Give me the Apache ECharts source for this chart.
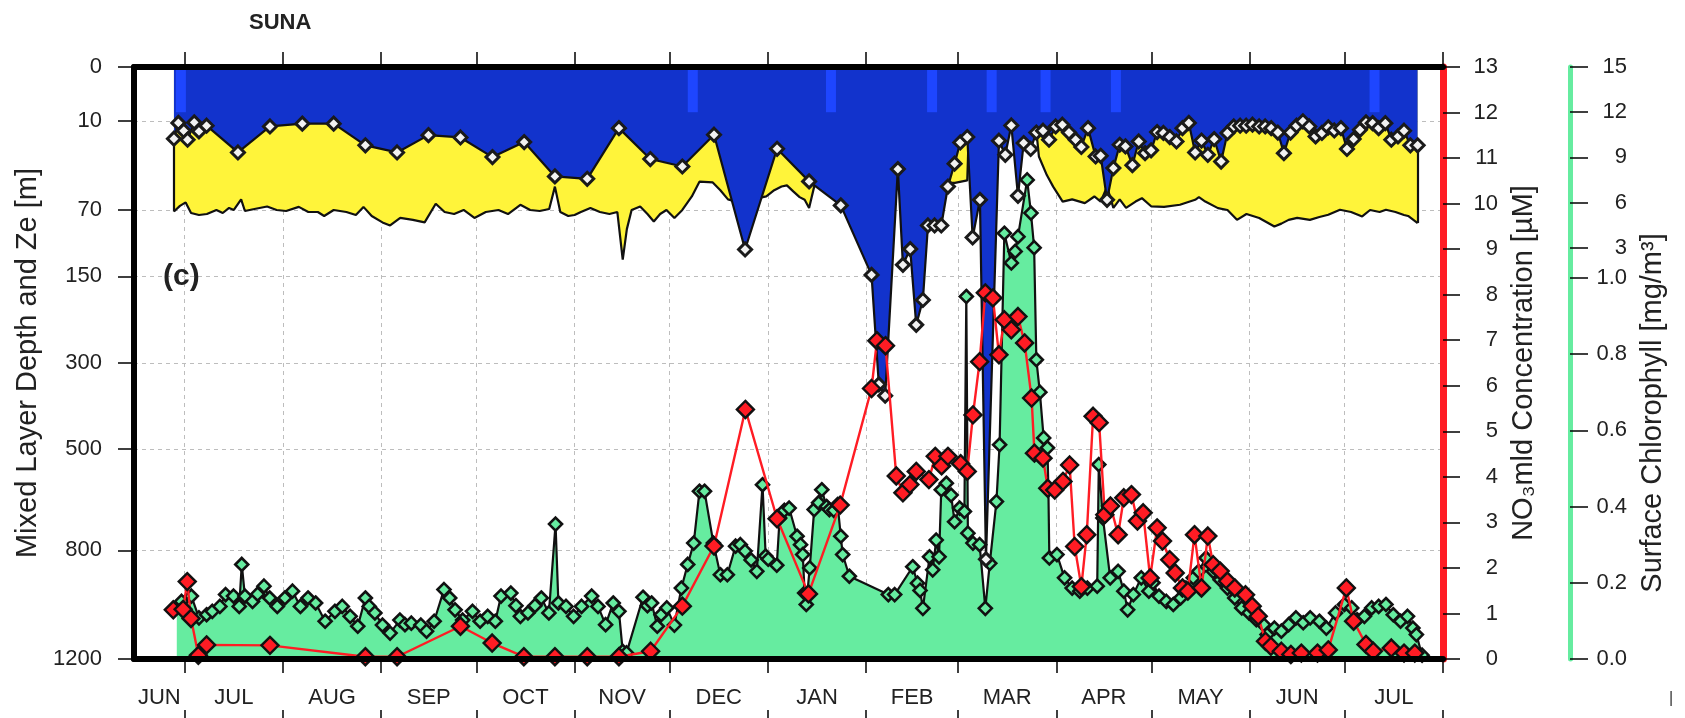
<!DOCTYPE html>
<html>
<head>
<meta charset="utf-8">
<title>SUNA</title>
<script src="https://cdn.jsdelivr.net/npm/echarts@6/dist/echarts.min.js"></script>
<style>
  html, body { margin: 0; padding: 0; background: #fff; }
  #chart { width: 1685px; height: 718px; }
</style>
</head>
<body>
<div id="chart"></div>
<script>
// x values are days counted from 2015-06-15 (left edge of the plot)
var START = Date.UTC(2015, 5, 15);
var END = Date.UTC(2016, 7, 1);
var DAY = 86400000;

var monthStarts = ['2015-07-01', '2015-08-01', '2015-09-01', '2015-10-01', '2015-11-01', '2015-12-01',
  '2016-01-01', '2016-02-01', '2016-03-01', '2016-04-01', '2016-05-01', '2016-06-01', '2016-07-01', '2016-08-01'];
var monthNames = ['JUN', 'JUL', 'AUG', 'SEP', 'OCT', 'NOV', 'DEC', 'JAN', 'FEB', 'MAR', 'APR', 'MAY', 'JUN', 'JUL'];

var depthTicks = [0, 10, 70, 150, 300, 500, 800, 1200];
var chlTicks = [0, 0.2, 0.4, 0.6, 0.8, 1.0, 3, 6, 9, 12, 15];
var chlTickLabels = ['0.0', '0.2', '0.4', '0.6', '0.8', '1.0', '3', '6', '9', '12', '15'];

// mixed layer depth [m]
var mldDay = [12.6, 14.0, 15.7, 16.9, 19.0, 20.5, 22.9, 32.8, 42.9, 53.1,
  63.0, 73.0, 83.0, 92.9, 103.0, 113.1, 123.1, 132.8, 143.0, 153.0,
  162.9, 173.0, 183.0, 192.8, 202.9, 213.0, 223.0, 232.7, 235.0, 237.0,
  241.0, 242.6, 244.9, 246.8, 248.9, 250.5, 252.6, 254.7, 256.8, 258.9,
  260.7, 262.9, 264.6, 266.9, 268.8, 272.9, 274.9, 276.8, 278.9, 280.7,
  282.9, 284.7, 286.8, 288.7, 290.8, 292.9, 295.0, 297.1, 298.9, 301.0,
  303.4, 305.0, 307.0, 309.0, 311.0, 312.8, 315.0, 317.0, 319.0, 320.9,
  322.8, 324.8, 326.8, 328.9, 330.8, 332.8, 334.8, 336.8, 338.8, 340.8,
  343.0, 345.0, 347.0, 349.0, 350.9, 352.9, 355.0, 356.9, 358.8, 360.9,
  362.8, 364.9, 366.8, 368.8, 370.8, 372.8, 374.8, 376.8, 378.7, 380.8,
  382.7, 384.8, 386.8, 388.7, 390.8, 392.7, 394.8, 396.7, 398.8, 400.7,
  402.7, 405.0];
var mldDepth = [17.6, 10.7, 13.9, 18.1, 10.5, 14.2, 11.8, 25, 12.1, 11,
  11, 21, 25, 15.9, 17, 27.8, 19.3, 41, 42.8, 12.8,
  29, 33.9, 15.7, 114, 22.9, 44.8, 65.6, 148, 345, 370,
  35.7, 134, 113.5, 227.6, 185.8, 86, 86, 86, 48.9, 32,
  19.5, 16.8, 99.5, 60.4, 830, 18.6, 26.4, 11.7, 56.8, 19.8,
  23, 14.7, 13.9, 18.1, 12.1, 11.4, 14.7, 18.1, 21.9, 12.8,
  27.4, 27, 60.4, 35, 20.7, 21.6, 33, 19, 25.4, 23.8,
  14.5, 14.9, 16.8, 19, 12.8, 10.7, 25, 18.5, 26.4, 17.8,
  30.6, 14.9, 12.1, 11.8, 11.8, 11.4, 12.1, 12.1, 12.8, 14.7,
  25.4, 14.7, 11.8, 10.1, 12.1, 16.5, 14.9, 12.5, 13.8, 12.8,
  23, 17.8, 13.5, 10.5, 10.8, 12.8, 10.8, 18.1, 16.5, 13.9,
  21, 21];

// euphotic depth Ze [m]
var zeDay = [12.6, 14.5, 16.3, 18, 20.5, 23, 26, 28, 30, 31.5,
  33.8, 35, 38, 42, 45, 48, 52, 55, 58, 60,
  63, 67, 70, 72.4, 75, 78.4, 80.8, 84, 88, 91.7,
  95.2, 98, 101, 104, 107.4, 111, 115, 118, 121.9, 125,
  128, 131, 132.8, 134.5, 137, 139, 141, 144, 147, 150,
  152.5, 154.2, 155.5, 157, 159.7, 162, 164, 166, 168, 170.5,
  173, 176, 178.4, 182.6, 185, 187.4, 190, 195, 199.5, 202,
  204.3, 206, 208, 210, 211.6, 213, 214.6, 218, 225, 232,
  240, 248, 255, 256.8, 259, 262.9, 263.5, 270, 280, 284.7,
  285.5, 288, 290, 293, 296, 300, 303, 305, 307, 309,
  311, 313, 316, 318, 321, 325, 330, 334.8, 336, 338,
  342, 345, 348, 351, 355, 359.8, 362, 364.3, 367, 371,
  374, 376.8, 380.5, 384, 387.5, 390, 393, 395, 398, 400.7,
  402, 405];
var zeDepth = [71.5, 66, 62.8, 73, 75, 74, 70, 73, 68, 70,
  60, 71, 69, 66.6, 70, 71, 67, 72, 72, 76,
  70, 72, 75, 67, 76, 82.7, 86, 78, 80, 82.7,
  64, 72, 74, 70, 78, 72, 70, 74, 65, 70,
  71, 69, 49, 72, 76, 75, 72, 68, 72, 74,
  72, 127, 90, 70, 66.6, 74, 81.7, 74, 70, 78,
  70, 57.4, 45, 45.6, 52, 60, 62, 60, 57.3, 52,
  48.9, 48, 53, 58, 60.4, 68, 49, 40, 35, 30,
  30, 30, 40, 46, 46, 44, 10, 10, 10, 14,
  27.4, 40, 49, 62, 60, 63.4, 57.4, 62, 49, 68,
  60, 68, 62, 58.9, 66.6, 67, 65, 60.4, 58, 62,
  68.2, 70, 80, 74, 78, 87.1, 84, 80, 78, 80,
  77, 74.8, 69.8, 72, 76.5, 70, 72, 69.8, 72, 75,
  76, 83.4];

// surface chlorophyll [mg/m3]
var chlDay = [13.5, 15, 18.1, 20.5, 22.9, 24.7, 27.1, 28.9, 31.4, 33.2,
  34, 35, 37.4, 39, 41, 42.8, 45.2, 47.6, 50, 52.5,
  54.9, 57.3, 60.3, 63.4, 65.7, 68.2, 70.6, 73, 74.2, 76,
  78.4, 80.8, 83.9, 85.5, 87.5, 90.5, 92.3, 94.7, 97.8, 99.6,
  101.3, 103.7, 106.8, 109.2, 111.6, 114, 115.8, 118.9, 120.5, 121.9,
  124.3, 126.5, 128.5, 130.9, 133, 133.9, 136.3, 138.7, 141.2, 144.4,
  146.4, 148.8, 151.2, 153, 154.2, 155.4, 160.6, 162, 163.3, 165.1,
  166.3, 168.1, 170.5, 172.7, 174.7, 176.6, 178.4, 180, 182.8, 185,
  187.2, 189.8, 191.3, 192.8, 194.7, 196.5, 198.3, 199.3, 200.1, 202.8,
  203.7, 205.2, 206.7, 209.2, 210.3, 211, 211.6, 212.1, 213.2, 214.6,
  216, 217, 218.5, 219.4, 220.8, 222, 223, 223.6, 225.7, 238,
  240, 245.7, 247.2, 248, 248.9, 251, 252, 253.1, 254, 254.7,
  256.3, 257.8, 258.9, 260.5, 262, 262.6, 263.1, 264.7, 266.8, 268.6,
  270, 272.1, 273.1, 274.6, 276.8, 278, 278.9, 281.8, 283, 284,
  284.7, 285.8, 287, 288.2, 288.5, 288.8, 291.2, 293.6, 296, 298.4,
  300.8, 303.9, 304.4, 305.7, 308, 310.5, 312.3, 313.5, 315.3, 317.8,
  320.2, 321.5, 323.4, 325.7, 327.9, 330.2, 331.9, 334.2, 335.9, 338.2,
  340.5, 342.7, 345, 347.3, 349.5, 351.8, 354.1, 356.4, 357.5, 359.8,
  362, 364.3, 366.6, 368.9, 371.1, 374, 376.2, 379.1, 381.9, 384.2,
  385.9, 388.2, 390.5, 392.7, 395, 397.3, 399.6, 401.8, 403.5, 404.6,
  406.4];
var chlValue = [0.136, 0.151, 0.165, 0.108, 0.116, 0.125, 0.138, 0.169, 0.165, 0.138,
  0.248, 0.165, 0.151, 0.17, 0.191, 0.16, 0.138, 0.16, 0.178, 0.138,
  0.16, 0.147, 0.099, 0.125, 0.138, 0.112, 0.086, 0.16, 0.138, 0.121,
  0.089, 0.068, 0.102, 0.09, 0.094, 0.089, 0.073, 0.099, 0.182, 0.16,
  0.129, 0.102, 0.125, 0.099, 0.112, 0.099, 0.165, 0.173, 0.14, 0.112,
  0.121, 0.14, 0.16, 0.121, 0.354, 0.147, 0.138, 0.112, 0.138, 0.165,
  0.138, 0.09, 0.147, 0.125, 0.02, 0.016, 0.162, 0.14, 0.147, 0.086,
  0.116, 0.134, 0.089, 0.186, 0.248, 0.304, 0.44, 0.44, 0.304, 0.221,
  0.221, 0.296, 0.3, 0.283, 0.26, 0.23, 0.457, 0.27, 0.262, 0.246,
  0.37, 0.39, 0.396, 0.322, 0.3, 0.274, 0.173, 0.143, 0.239, 0.392,
  0.41, 0.444, 0.4, 0.392, 0.39, 0.405, 0.322, 0.274, 0.217, 0.169,
  0.169, 0.242, 0.199, 0.18, 0.133, 0.268, 0.234, 0.312, 0.268, 0.444,
  0.461, 0.43, 0.36, 0.396, 0.387, 0.951, 0.33, 0.304, 0.3, 0.133,
  0.251, 0.413, 0.562, 3.96, 1.99, 2.75, 3.73, 7.5, 5.3, 3.0,
  0.785, 0.70, 0.58, 0.554, 0.444, 0.265, 0.274, 0.213, 0.186, 0.178,
  0.186, 0.191, 0.51, 0.37, 0.213, 0.23, 0.178, 0.129, 0.169, 0.213,
  0.178, 0.2, 0.165, 0.151, 0.143, 0.16, 0.186, 0.213, 0.23, 0.265,
  0.23, 0.208, 0.186, 0.16, 0.134, 0.121, 0.103, 0.09, 0.064, 0.081,
  0.073, 0.09, 0.108, 0.095, 0.108, 0.099, 0.081, 0.121, 0.143, 0.134,
  0.103, 0.112, 0.134, 0.138, 0.143, 0.116, 0.099, 0.112, 0.081, 0.064,
  0.01];

// nitrate in the mixed layer [uM]
var no3Day = [12.4, 15.5, 16.8, 18, 20.3, 22.9, 42.9, 73, 83, 103,
  113, 123, 132.8, 143, 153, 163, 173, 183, 192.9, 202.9,
  212.8, 222.8, 232.7, 234.4, 237.1, 240.5, 242.6, 244.8, 246.8, 250.8,
  252.8, 254.8, 256.8, 260.8, 262.9, 264.7, 266.8, 268.6, 271, 272.9,
  274.6, 276.8, 278.9, 281, 283.2, 284.1, 286.8, 288.3, 290.5, 293.1,
  295.2, 296.8, 298.9, 300.6, 302.6, 304.5, 306.3, 308.1, 310.5, 312.3,
  314.7, 316.6, 318.4, 320.6, 322.8, 324.5, 326.8, 328.5, 330.8, 332.5,
  334.6, 336.8, 338.8, 340.5, 342.7, 345, 347.3, 350.7, 352.8, 354.7,
  357, 358.7, 362, 365, 368.3, 373.4, 376.8, 382.5, 384.8, 388.7,
  391, 396.7, 400.7, 404.1];
var no3Value = [1.08, 1.09, 1.7, 0.89, 0.08, 0.31, 0.3, 0.05, 0.05, 0.72,
  0.35, 0.05, 0.05, 0.05, 0.05, 0.17, 1.16, 2.48, 5.48, 3.08,
  1.43, 3.38, 5.94, 6.99, 6.88, 4.02, 3.65, 3.83, 4.12, 3.94,
  4.45, 4.24, 4.45, 4.29, 4.12, 5.36, 6.53, 8.04, 7.93, 6.68,
  7.45, 7.23, 7.52, 6.94, 5.73, 4.52, 4.41, 3.75, 3.71, 3.9,
  4.26, 2.47, 1.59, 2.73, 5.33, 5.19, 3.17, 3.36, 2.73, 3.54,
  3.61, 3.03, 3.21, 1.78, 2.88, 2.59, 2.18, 1.89, 1.56, 1.49,
  2.73, 1.56, 2.70, 2.07, 1.93, 1.71, 1.56, 1.41, 1.16, 0.94,
  0.39, 0.28, 0.17, 0.1, 0.13, 0.13, 0.2, 1.56, 0.83, 0.32,
  0.17, 0.24, 0.13, 0.13];

// light blue markers at the surface
var markDay = [14.8, 176.3, 219.9, 251.8, 270.6, 287.6, 309.8, 391.4];
var markDepth = 7;

var FONT = '"Liberation Sans", Arial, Helvetica, "DejaVu Sans", sans-serif';
var BLUE = '#1233cc';
var LIGHTBLUE = '#1e46ff';
var YELLOW = '#fff43a';
var GREEN = '#66eca0';
var RED = '#ff1c24';
var INK = '#111';

// left axis is a square-root depth scale, chlorophyll axis is stretched below 1
var CHL_K = 0.0395;
function dep(v) { return Math.sqrt(v); }
function chl(v) { return v <= 1 ? v : 1 + (v - 1) * CHL_K; }
function dayOf(s) { return (Date.parse(s) - START) / DAY; }
function pairs(xs, ys, f) {
  return xs.map(function (x, i) { return [x, f ? f(ys[i]) : ys[i]]; });
}

var LAST_DAY = (END - START) / DAY;
var monthTicks = monthStarts.map(dayOf);
var bounds = [0].concat(monthTicks);
var monthMids = monthNames.map(function (n, i) { return (bounds[i] + bounds[i + 1]) / 2; });

var mldData = pairs(mldDay, mldDepth, dep);
var zeData = pairs(zeDay, zeDepth, dep);
var chlData = pairs(chlDay, chlValue, chl);
var no3Data = pairs(no3Day, no3Value);
var markData = markDay.map(function (d) { return [d, dep(markDepth)]; });

var lastM = mldDay.length - 1, lastZ = zeDay.length - 1;

var gridLine = { show: true, lineStyle: { color: '#bdbdbd', width: 1, type: [4, 4] } };
var tickLabel = { fontFamily: FONT, fontSize: 22, color: '#222' };
var titleFont = { fontFamily: FONT, fontSize: 29, color: '#222' };

function xBase(extra) {
  return Object.assign({ type: 'value', min: 0, max: LAST_DAY }, extra);
}
function frameLine(color, width) {
  return { show: true, onZero: false, lineStyle: { color: color, width: width } };
}

var myChart = echarts.init(document.getElementById('chart'));
myChart.setOption({
  animation: false,
  backgroundColor: '#fff',
  title: [
    { text: 'SUNA', left: 249, top: 12, padding: 0,
      textStyle: { fontFamily: FONT, fontSize: 22, fontWeight: 'bold', color: '#222' } },
    { text: '(c)', left: 163, top: 262, padding: 0,
      textStyle: { fontFamily: FONT, fontSize: 30, fontWeight: 'bold', color: '#222' } },
    { text: '|', left: 1669, top: 691, padding: 0,
      textStyle: { fontFamily: FONT, fontSize: 16, fontWeight: 'normal', color: '#333' } }
  ],
  grid: { left: 134, right: 242, top: 67, bottom: 59, containLabel: false },
  xAxis: [
    xBase({ // bottom axis: line, ticks and month names
      position: 'bottom', z: 10,
      axisLine: frameLine('#000', 6),
      axisTick: { show: true, customValues: monthTicks, length: 14, lineStyle: { color: '#000', width: 1.5 } },
      axisLabel: Object.assign({
        customValues: monthMids, margin: 28, hideOverlap: false,
        formatter: function (v) {
          var i = monthMids.findIndex(function (m) { return Math.abs(m - v) < 0.01; });
          return i >= 0 ? monthNames[i] : '';
        }
      }, tickLabel),
      splitLine: { show: false }
    }),
    xBase({ // top frame
      position: 'top', z: 10,
      axisLine: frameLine('#000', 6),
      axisTick: { show: true, customValues: monthTicks, length: 15, lineStyle: { color: '#000', width: 1.5 } },
      axisLabel: { show: false }, splitLine: { show: false }
    }),
    xBase({ // ticks below the month names
      position: 'bottom', offset: 51,
      axisLine: { show: false, onZero: false },
      axisTick: { show: true, customValues: monthTicks, length: 10, lineStyle: { color: '#000', width: 1.5 } },
      axisLabel: { show: false }, splitLine: { show: false }
    }),
    xBase({ // month grid lines under the data
      position: 'bottom', z: 0,
      axisLine: { show: false, onZero: false },
      axisTick: { show: false, customValues: monthTicks },
      axisLabel: { show: false },
      splitLine: gridLine
    })
  ],
  yAxis: [
    {
      type: 'value', inverse: true, min: 0, max: dep(1200), position: 'left', z: 0,
      name: 'Mixed Layer Depth and Ze [m]', nameLocation: 'middle', nameGap: 90,
      nameTextStyle: titleFont,
      axisLine: frameLine('#000', 6),
      axisTick: { show: true, customValues: depthTicks.map(dep), length: 16, lineStyle: { color: '#000', width: 1.5 } },
      axisLabel: Object.assign({
        customValues: depthTicks.map(dep), margin: 32,
        formatter: function (v) {
          var i = depthTicks.findIndex(function (t) { return Math.abs(dep(t) - v) < 1e-6; });
          return i >= 0 ? String(depthTicks[i]) : '';
        }
      }, tickLabel),
      splitLine: gridLine
    },
    {
      type: 'value', min: 0, max: 13, interval: 1, position: 'right', z: 10,
      name: 'NO\u2083mld Concentration [\u00b5M]', nameLocation: 'middle', nameGap: 66,
      nameTextStyle: titleFont,
      axisLine: frameLine(RED, 7),
      axisTick: { show: true, length: 17, lineStyle: { color: '#000', width: 1.5 } },
      axisLabel: Object.assign({ align: 'right', margin: 55 }, tickLabel),
      splitLine: { show: false }
    },
    {
      type: 'value', min: 0, max: chl(15), position: 'right', offset: 127, z: 10,
      name: 'Surface Chlorophyll [mg/m\u00b3]', nameLocation: 'middle', nameGap: 68,
      nameTextStyle: Object.assign({ padding: [0, 100, 0, 0] }, titleFont),
      axisLine: frameLine(GREEN, 5),
      axisTick: { show: true, customValues: chlTicks.map(chl), length: 18, lineStyle: { color: '#000', width: 1.5 } },
      axisLabel: Object.assign({
        customValues: chlTicks.map(chl), align: 'right', margin: 57,
        formatter: function (v) {
          var i = chlTicks.findIndex(function (t) { return Math.abs(chl(t) - v) < 1e-6; });
          return i >= 0 ? chlTickLabels[i] : '';
        }
      }, tickLabel),
      splitLine: { show: false }
    }
  ],
  series: [
    { // chlorophyll fill
      name: 'chl-fill', type: 'line', xAxisIndex: 0, yAxisIndex: 2, data: chlData, z: 2,
      symbol: 'none', lineStyle: { width: 0, opacity: 0 },
      areaStyle: { color: GREEN, opacity: 1, origin: 'start' }
    },
    { // euphotic depth (yellow below the mixed layer)
      name: 'Ze', type: 'line', xAxisIndex: 0, yAxisIndex: 0, data: zeData, z: 3,
      symbol: 'none', lineStyle: { color: INK, width: 2.2 },
      areaStyle: { color: YELLOW, opacity: 1, origin: 'start' },
      markLine: {
        silent: true, symbol: 'none', label: { show: false },
        lineStyle: { color: INK, width: 2.2, type: 'solid' },
        data: [
          [{ coord: [zeDay[0], dep(mldDepth[0])] }, { coord: [zeDay[0], dep(zeDepth[0])] }],
          [{ coord: [zeDay[lastZ], dep(mldDepth[lastM])] }, { coord: [zeDay[lastZ], dep(zeDepth[lastZ])] }]
        ]
      }
    },
    { // mixed layer fill
      name: 'mld-fill', type: 'line', xAxisIndex: 0, yAxisIndex: 0, data: mldData, z: 4,
      symbol: 'none', lineStyle: { width: 0, opacity: 0 },
      areaStyle: { color: BLUE, opacity: 1, origin: 'start' }
    },
    {
      name: 'marks', type: 'bar', xAxisIndex: 0, yAxisIndex: 0, data: markData, z: 5,
      barWidth: 10, itemStyle: { color: LIGHTBLUE }
    },
    {
      name: 'Chl', type: 'line', xAxisIndex: 0, yAxisIndex: 2, data: chlData, z: 6,
      symbol: 'diamond', symbolSize: 13, showSymbol: true,
      lineStyle: { color: INK, width: 2.2 },
      itemStyle: { color: GREEN, borderColor: INK, borderWidth: 2.6 }
    },
    {
      name: 'MLD', type: 'line', xAxisIndex: 0, yAxisIndex: 0, data: mldData, z: 7,
      symbol: 'diamond', symbolSize: 13, showSymbol: true,
      lineStyle: { color: INK, width: 2.2 },
      itemStyle: { color: '#f2f2f2', borderColor: '#1a1a1a', borderWidth: 3 }
    },
    {
      name: 'NO3', type: 'line', xAxisIndex: 0, yAxisIndex: 1, data: no3Data, z: 8,
      symbol: 'diamond', symbolSize: 17, showSymbol: true,
      lineStyle: { color: RED, width: 2.4 },
      itemStyle: { color: RED, borderColor: INK, borderWidth: 2.4 }
    }
  ]
});
</script>
</body>
</html>
